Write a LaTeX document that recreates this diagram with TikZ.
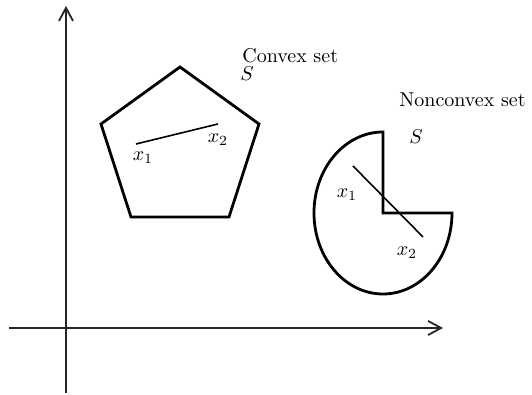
\documentclass[tikz,border=0pt]{standalone}
\usetikzlibrary{arrows.meta}

\tikzset{
  axis/.style={line width=0.9pt, black!85, -{Straight Barb[length=6.5pt,width=7pt]}},
  setline/.style={line width=1.4pt, line join=miter},
  chord/.style={line width=0.8pt},
  lbl/.style={font=\normalsize, inner sep=0pt}
}

\begin{document}
\begin{tikzpicture}[x=0.5pt, y=0.5pt]
\useasboundingbox (0,0) rectangle (532,395);

% axes
\draw[axis] (66,2) -- (66,389);
\draw[axis] (9,67) -- (443,67);

% convex set: regular pentagon
\draw[setline] (180,328) -- (259,271) -- (229,178) -- (131,178) -- (101,271) -- cycle;
\coordinate (ca) at (136,251);
\coordinate (cb) at (218,271);
\draw[chord] (ca) -- (cb);
\node[lbl] (cx1) at (143,237) {$x_1$};
\node[lbl] (cx2) at (218,255) {$x_2$};
\node[lbl, anchor=west] (ctitle) at (242,339) {Convex set};
\node[lbl] (cS) at (247,321) {$S$};

% nonconvex set: ellipse with one quadrant cut away
\draw[setline] (383,263) arc[start angle=90, end angle=360, x radius=69, y radius=81]
  -- (383,182) -- cycle;
\coordinate (na) at (353,229);
\coordinate (nb) at (423,158);
\draw[chord] (na) -- (nb);
\node[lbl] (nx1) at (347,200) {$x_1$};
\node[lbl] (nx2) at (407,142) {$x_2$};
\node[lbl, anchor=west] (ntitle) at (399,295) {Nonconvex set};
\node[lbl] (nS) at (416,258) {$S$};

\end{tikzpicture}
\end{document}
